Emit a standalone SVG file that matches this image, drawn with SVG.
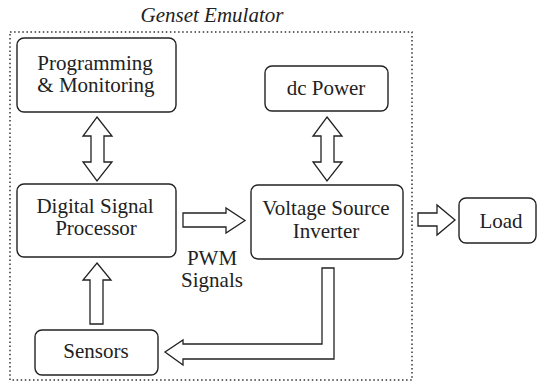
<svg xmlns="http://www.w3.org/2000/svg" width="541" height="382" viewBox="0 0 541 382">
<rect width="541" height="382" fill="#fff"/>
<g id="emulator">
<rect x="10" y="32" width="402" height="348" fill="none" stroke="#333" stroke-width="1.5" stroke-dasharray="1.5 2.6"/>
<text x="212" y="22" text-anchor="middle" fill="#222" font-family="Times New Roman, Liberation Serif, serif" font-size="21" font-style="italic">Genset Emulator</text>
</g>
<g id="connectors" fill="#fff" stroke="#222" stroke-width="1.3">
<path d="M97,117 L112,136 L104,136 L104,162 L112,162 L97,181 L83,162 L91,162 L91,136 L83,136 Z"/>
<path d="M327,117 L342,136 L334,136 L334,162 L342,162 L327,181 L313,162 L321,162 L321,136 L313,136 Z"/>
<path d="M183,213 L226,213 L226,208 L245,220.5 L226,233 L226,227 L183,227 Z"/>
<path d="M418,213 L437,213 L437,205 L455,220 L437,235 L437,226 L418,226 Z"/>
<path d="M97,263 L111,280 L103,280 L103,324 L90,324 L90,280 L83,280 Z"/>
<path d="M322,268 L334,268 L334,359 L183,359 L183,365 L165,352 L183,340 L183,344 L322,344 Z"/>
</g>
<g id="pwm-label" fill="#222" font-family="Times New Roman, Liberation Serif, serif" font-size="21" text-anchor="middle">
<text x="212" y="265">PWM</text>
<text x="212" y="287">Signals</text>
</g>
<g id="nodes" fill="#222" font-family="Times New Roman, Liberation Serif, serif" font-size="21" text-anchor="middle">
<g id="programming">
<rect x="17" y="38" width="159" height="74" rx="7" fill="#fff" stroke="#222" stroke-width="1.4"/>
<text x="95" y="70">Programming</text>
<text x="96" y="92">&amp; Monitoring</text>
</g>
<g id="dcpower">
<rect x="265" y="66" width="123" height="45" rx="7" fill="#fff" stroke="#222" stroke-width="1.4"/>
<text x="326" y="95">dc Power</text>
</g>
<g id="dsp">
<rect x="17" y="184" width="159" height="73" rx="7" fill="#fff" stroke="#222" stroke-width="1.4"/>
<text x="95" y="213">Digital Signal</text>
<text x="96" y="235">Processor</text>
</g>
<g id="vsi">
<rect x="251" y="185" width="152" height="74" rx="7" fill="#fff" stroke="#222" stroke-width="1.4"/>
<text x="326" y="215">Voltage Source</text>
<text x="326" y="238">Inverter</text>
</g>
<g id="load">
<rect x="459" y="198" width="77" height="45" rx="7" fill="#fff" stroke="#222" stroke-width="1.4"/>
<text x="501" y="228">Load</text>
</g>
<g id="sensors">
<rect x="35" y="330" width="123" height="45" rx="7" fill="#fff" stroke="#222" stroke-width="1.4"/>
<text x="96" y="358">Sensors</text>
</g>
</g>
</svg>
